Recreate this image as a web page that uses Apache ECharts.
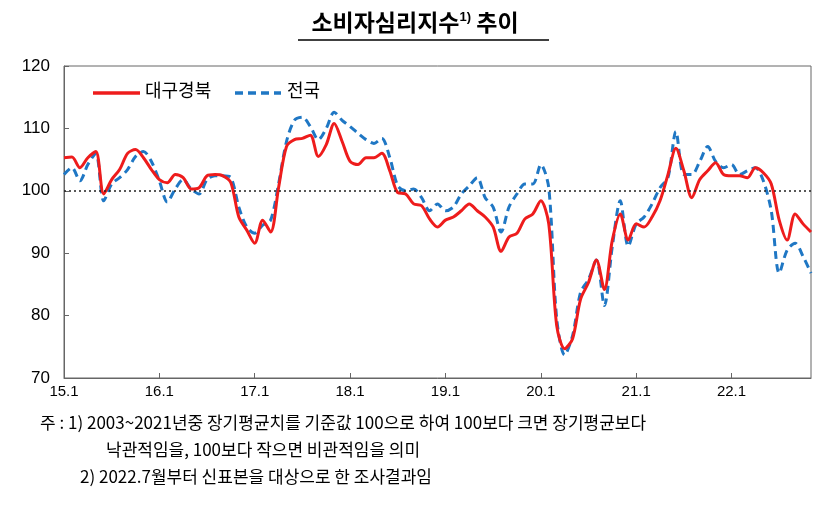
<!DOCTYPE html>
<html><head><meta charset="utf-8">
<script src="https://cdn.jsdelivr.net/npm/echarts@6/dist/echarts.min.js"></script>
<style>body{margin:0;background:#fff}#c{width:830px;height:513px}</style>
</head><body><div id="c"></div>
<script>
const months = [];
for (let y = 15; y <= 22; y++) for (let m = 1; m <= 12; m++) months.push(y + '.' + m);
const categories = months.slice(0, 95);
const daeguValues = [105.3,105.4,103.7,105.3,106.3,99.5,101.8,103.4,106,106.6,105.3,103.4,101.8,101.3,102.6,102.1,100.3,100.5,102.4,102.6,102.4,101.3,95.8,93.7,91.6,95.3,93.4,100.5,107.1,108.2,108.4,108.9,105.5,107.4,110.8,107.9,104.7,104.2,105.3,105.3,106,103.2,99.7,99.5,97.9,97.6,95.5,94.2,95.3,95.8,96.8,97.9,96.8,95.8,94.2,90.3,92.6,93.2,95.5,96.3,98.4,94.7,78.4,74.7,76.3,82.6,85.3,88.9,84.2,92.1,96.3,92.1,94.7,94.2,95.8,98.4,102.6,106.8,103.2,98.9,101.8,103.2,104.5,102.6,102.4,102.4,102.1,103.7,102.9,101.1,95.3,92.1,96.3,94.7,93.4];
const nationValues = [102.6,103.7,101.6,104.2,106,98.4,101.1,102.1,103.4,105.5,106.3,104.7,101.6,98.2,100.3,101.8,100.3,99.5,101.8,102.4,102.4,102.1,97.4,94.2,93.2,94.5,95.3,101.1,107.9,111.3,111.8,110.3,108.2,110,112.6,111.3,110.3,109.2,108.2,107.6,108.4,105.3,100.8,100,100.3,98.9,96.8,97.9,96.8,97.4,99.5,100.8,102.1,98.9,97.4,93.4,97.4,99.5,101.1,101.1,104.2,100.5,79.5,73.7,76.8,83.7,85.8,88.9,81.6,91.1,98.4,91.1,94.7,95.8,97.9,100.5,102.1,109.5,102.6,102.6,104.7,107.1,104.7,103.7,104.2,102.6,103.2,103.7,101.6,96.8,86.8,90.5,91.6,89.5,86.8];
const seriesNames = ['대구경북', '전국'];
const yTicks = [70, 80, 90, 100, 110, 120];

const chart = echarts.init(document.getElementById('c'));
const kr = '"Noto Sans CJK KR"';
chart.setOption({
  animation: false,
  title: {
    text: '{t|소비자심리지수}{s|1)}{t| 추이}',
    left: 'center', top: 6,
    textStyle: { rich: {
      t: { fontSize: 23, fontWeight: 'bold', color: '#000', fontFamily: kr },
      s: { fontSize: 13, fontWeight: 'bold', color: '#000', verticalAlign: 'top', padding: [0,0,10,0] }
    } }
  },
  legend: { show: false, data: seriesNames },
  graphic: [
    { type: 'line', shape: { x1: 298, y1: 40, x2: 549, y2: 40 }, style: { stroke: '#000', lineWidth: 1.5 } },
    { type: 'line', z: 10, shape: { x1: 93, y1: 93, x2: 140, y2: 93 }, style: { stroke: '#ee1c1c', lineWidth: 3.5 } },
    { type: 'text', z: 10, left: 145, top: 81, style: { text: seriesNames[0], font: '18px ' + kr, fill: '#000' } },
    { type: 'line', z: 10, shape: { x1: 235, y1: 93, x2: 281, y2: 93 }, style: { stroke: '#1f77c4', lineWidth: 3.5, lineDash: [8, 5] } },
    { type: 'text', z: 10, left: 287, top: 81, style: { text: seriesNames[1], font: '18px ' + kr, fill: '#000' } },
    { type: 'text', left: 40, top: 414, style: { text: '주 : 1) 2003~2021년중 장기평균치를 기준값 100으로 하여 100보다 크면 장기평균보다', font: '17px ' + kr, fill: '#000' } },
    { type: 'text', left: 106, top: 441, style: { text: '낙관적임을, 100보다 작으면 비관적임을 의미', font: '17px ' + kr, fill: '#000' } },
    { type: 'text', left: 80, top: 468, style: { text: '2) 2022.7월부터 신표본을 대상으로 한 조사결과임', font: '17px ' + kr, fill: '#000' } }
  ],
  grid: { left: 64, right: 19, top: 66, bottom: 135, show: true, borderColor: '#666', borderWidth: 1 },
  xAxis: {
    type: 'category', data: categories, boundaryGap: false,
    axisLine: { lineStyle: { color: '#666' } },
    axisTick: { inside: true, length: 5, lineStyle: { color: '#666' }, interval: (i) => i % 12 === 0 },
    axisLabel: { interval: (i) => i % 12 === 0, color: '#000', fontSize: 15, fontFamily: 'Arial, "Liberation Sans"', margin: 6 },
    splitLine: { show: false }
  },
  yAxis: {
    type: 'value', min: 70, max: 120, interval: 10,
    axisLine: { show: true, lineStyle: { color: '#666' } },
    axisTick: { show: true, inside: true, length: 5, lineStyle: { color: '#666' } },
    axisLabel: { color: '#000', fontSize: 17, fontFamily: 'Arial, "Liberation Sans"', margin: 14,
      formatter: v => yTicks.includes(v) ? String(v) : '' },
    splitLine: { show: false }
  },
  series: [
    { name: seriesNames[0], type: 'line', data: daeguValues, smooth: 0.3, symbol: 'none',
      lineStyle: { color: '#ee1c1c', width: 3 }, itemStyle: { color: '#ee1c1c' }, z: 3,
      markLine: { silent: true, symbol: 'none', label: { show: false },
        lineStyle: { color: '#222', type: [2, 3], width: 1.5 }, data: [{ yAxis: 100 }] } },
    { name: seriesNames[1], type: 'line', data: nationValues, smooth: 0.3, symbol: 'none',
      lineStyle: { color: '#1f77c4', width: 3, type: [8, 5] }, itemStyle: { color: '#1f77c4' }, z: 2 }
  ]
});
</script></body></html>
